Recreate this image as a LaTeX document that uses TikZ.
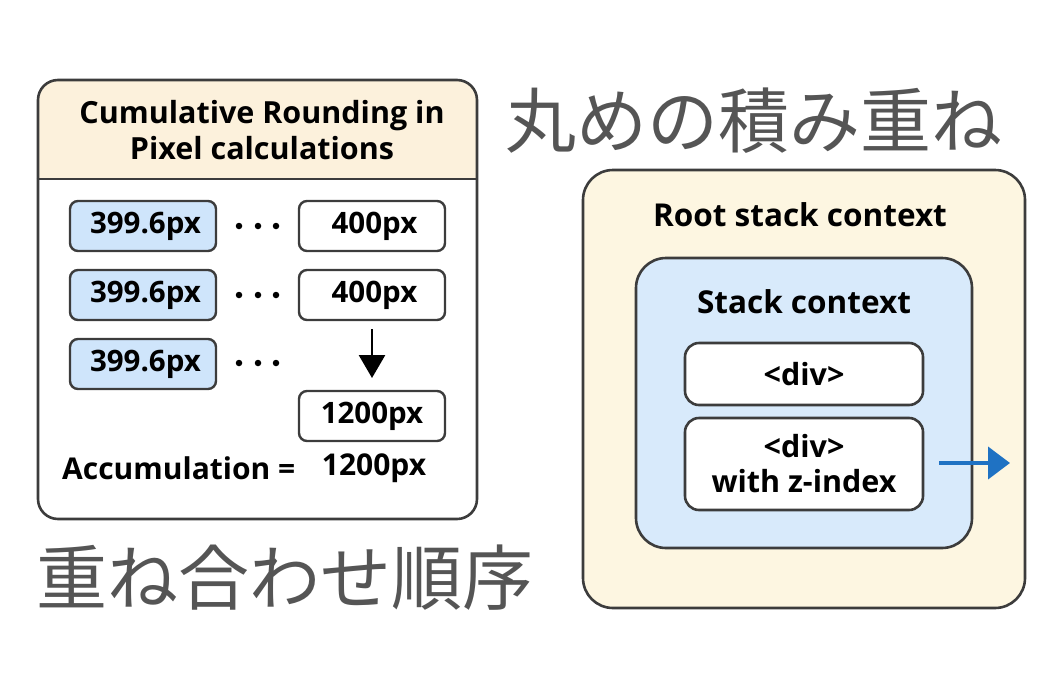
\documentclass[tikz,border=0pt]{standalone}
\usepackage{fontspec}
\setmainfont{Open Sans}
\newfontfamily\cjk{Noto Sans CJK JP}
\usetikzlibrary{arrows.meta}
\definecolor{edge}{HTML}{3C3C3C}
\definecolor{beige}{HTML}{FCF1DC}
\definecolor{cream}{HTML}{FDF6E1}
\definecolor{lblue}{HTML}{CFE5FB}
\definecolor{sblue}{HTML}{D8EAFB}
\definecolor{jgray}{HTML}{555555}
\definecolor{arrblue}{HTML}{1F72C3}
\tikzset{
  panel/.style={draw=edge, line width=2.6pt, rounded corners=20pt, inner sep=0pt},
  valbox/.style={draw=edge, line width=2.4pt, rounded corners=8pt, minimum width=146pt, minimum height=50pt, inner sep=0pt,
    font=\bfseries\fontsize{29.5}{34}\selectfont},
  bluebox/.style={valbox, fill=lblue},
  whitebox/.style={valbox, fill=white},
  divbox/.style={draw=edge, line width=2.6pt, rounded corners=14pt, fill=white, minimum width=238pt, inner sep=0pt, align=center,
    font=\bfseries\fontsize{30.5}{35}\selectfont},
  lbl/.style={font=\bfseries\fontsize{30}{34}\selectfont, inner sep=0pt},
  jtitle/.style={font=\cjk\fontsize{71}{80}\selectfont, text=jgray, inner sep=0pt},
  dot/.style={circle, fill=black, inner sep=0pt, minimum size=6.5pt}
}
\begin{document}
\begin{tikzpicture}[x=1pt,y=-1pt]
\useasboundingbox (0,0) rectangle (1062,680);
% left panel
\begin{scope}
  \clip[rounded corners=20pt] (38,80) rectangle (477,519);
  \fill[beige] (38,80) rectangle (477,179);
\end{scope}
\node[panel, minimum width=439pt, minimum height=439pt] (lpanel) at (257.5,299.5) {};
\draw[edge, line width=2pt] (lpanel.west |- 0,179) coordinate (hl) -- (lpanel.east |- 0,179) coordinate (hr);
\node[font=\bfseries\fontsize{30.5}{36}\selectfont, align=center, inner sep=0pt] (title) at (262,130) {Cumulative Rounding in\\Pixel calculations};

\node[bluebox] (b1) at (143,226) {\,399.6px};
\node[bluebox] (b2) at (143,295) {\,399.6px};
\node[bluebox] (b3) at (143,364) {\,399.6px};
\node[whitebox] (w1) at (372,226) {\,400px};
\node[whitebox] (w2) at (372,295) {\,400px};
\node[whitebox] (w3) at (372,416) {1200px};
\foreach \r/\y in {1/226,2/295,3/363}{
  \node[dot] (d\r a) at (239,\y) {};
  \node[dot] (d\r b) at (258,\y) {};
  \node[dot] (d\r c) at (276,\y) {};
}
\coordinate (arrs) at (372,329);
\coordinate (arre) at (372,378);
\draw[black, line width=2.8pt, -{Triangle[length=23pt,width=26pt]}] (arrs) -- (arre);
\node[lbl, anchor=west] (acc) at (62,468) {Accumulation =};
\node[lbl] (accv) at (374,468) {1200px};

% Japanese titles
\node[jtitle, anchor=west] (jt1) at (505,121) {丸めの積み重ね};
\node[jtitle, anchor=west] (jt2) at (36,578) {重ね合わせ順序};

% right panel
\node[panel, fill=cream, rounded corners=30pt, minimum width=442pt, minimum height=438pt] (root) at (804,389) {};
\node[lbl, font=\bfseries\fontsize{31.5}{36}\selectfont] (roott) at (800,215) {Root stack context};
\node[panel, fill=sblue, rounded corners=30pt, minimum width=336pt, minimum height=290pt] (stack) at (804,403) {};
\node[lbl, font=\bfseries\fontsize{31.5}{36}\selectfont] (stackt) at (804,302) {Stack context};
\node[divbox, minimum height=62pt] (div1) at (804,374) {<div>};
\node[divbox, minimum height=92pt] (div2) at (804,464) {<div>\\with z-index};
\coordinate (ba) at (939,463);
\coordinate (bb) at (1010,463);
\draw[arrblue, line width=4pt, -{Triangle[length=22pt,width=32pt]}] (ba) -- (bb);
\end{tikzpicture}
\end{document}
